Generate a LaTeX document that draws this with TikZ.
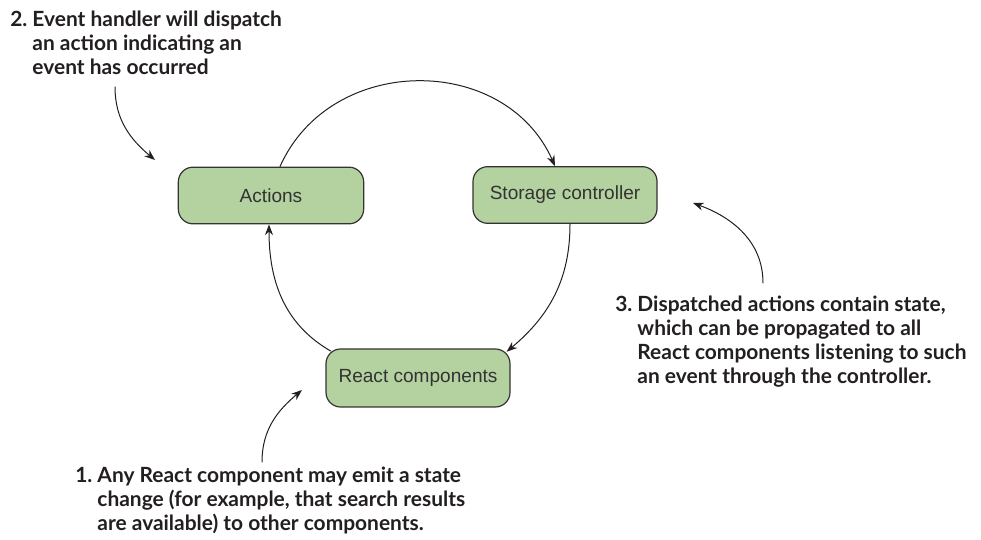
\documentclass[tikz,border=0pt]{standalone}
\usepackage{fontspec}
\setmainfont{Liberation Sans}
\newfontfamily\notefont{Lato}
\usetikzlibrary{arrows.meta}
\definecolor{boxgreen}{RGB}{179,210,160}
\definecolor{inkgray}{RGB}{51,51,51}
\definecolor{notegray}{RGB}{35,31,32}

\begin{document}
\begin{tikzpicture}[x=0.75pt, y=0.75pt, line cap=round, line join=round, >={Stealth[length=8pt,width=6pt]}, font=\fontsize{14.3}{17}\selectfont]
	\tikzset{
		block/.style={draw=inkgray, line width=0.9pt, fill=boxgreen, rounded corners=11pt, minimum width=139pt, minimum height=42.5pt, inner sep=0pt, text=inkgray},
		flow/.style={->, draw=notegray, line width=0.75pt},
		note/.style={anchor=base west, inner sep=0pt, text=notegray, font=\notefont\bfseries\fontsize{15.7}{18}\selectfont}
	}
	\useasboundingbox (0,0) rectangle (981,539);
	
	% THE THREE BLOCKS
	\node[block] (act) at (271,343.5) {Actions};
	\node[block, minimum width=138pt] (stor) at (565,344) {Storage controller};
	\node[block, minimum width=138pt, minimum height=43.5pt] (react) at (418,161) {React components};
	
	% THE CYCLE
	\draw[flow] ([xshift=6.75pt]act.north) to[out=66, in=114, looseness=1.15] ([xshift=-7.5pt]stor.north);
	\draw[flow] ([xshift=3.75pt]stor.south) to[out=-90, in=40] ([shift={(-3pt,-2.5pt)}]react.north east);
	\draw[flow] ([shift={(4pt,-2pt)}]react.north west) to[out=150, in=-90] ([xshift=-1.5pt]act.south);
	
	% THE NOTES
	\node[note] (note2) at (10,512) {\begin{tabular}[t]{@{}l@{\ }l@{}}2. & Event handler will dispatch\\ & an action indicating an\\ & event has occurred\end{tabular}};
	\node[note] (note3) at (615,227) {\begin{tabular}[t]{@{}l@{\ }l@{}}3. & Dispatched actions contain state,\\ & which can be propagated to all\\ & React components listening to such\\ & an event through the controller.\end{tabular}};
	\node[note] (note1) at (75,56) {\begin{tabular}[t]{@{}l@{\ }l@{}}1. & Any React component may emit a state\\ & change (for example, that search results\\ & are available) to other components.\end{tabular}};
	
	% POINTERS FROM THE NOTES
	\coordinate (tail2) at (115,452);
	\coordinate (tip2) at (155,379);
	\coordinate (tail3) at (763,256);
	\coordinate (tip3) at (693,336);
	\coordinate (tail1) at (262,77);
	\coordinate (tip1) at (302,149);
	\draw[flow] (tail2) to[out=-90, in=140] (tip2);
	\draw[flow] (tail3) to[out=90, in=-20] (tip3);
	\draw[flow] (tail1) to[out=90, in=-140] (tip1);
\end{tikzpicture}
\end{document}
